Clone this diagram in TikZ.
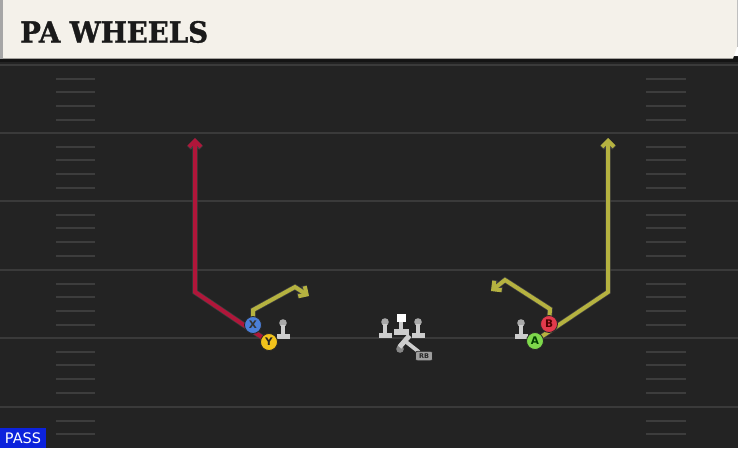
\documentclass[tikz,border=0pt]{standalone}
\usepackage{fontspec}
\usetikzlibrary{arrows.meta}
\newfontfamily\titlefont{DejaVu Serif}[FakeStretch=0.95, BoldFeatures={FakeBold=1.2}]
\newfontfamily\labfont{DejaVu Sans}
\definecolor{fieldbg}{HTML}{232323}
\definecolor{yardc}{HTML}{3A3A3A}
\definecolor{hashc}{HTML}{3D3D3D}
\definecolor{titlebg}{HTML}{F4F1EA}
\definecolor{titletext}{HTML}{1A1A1A}
\definecolor{passblue}{HTML}{0C22DC}
\definecolor{redroute}{HTML}{B0163A}
\definecolor{yelroute}{HTML}{B5B240}
\definecolor{iconc}{HTML}{CDCDCD}
\definecolor{headc}{HTML}{A9A9A9}
\definecolor{xfill}{HTML}{4B7FD9}
\definecolor{yfill}{HTML}{F2C31B}
\definecolor{bfill}{HTML}{E23A4C}
\definecolor{afill}{HTML}{7ED94B}
\pgfdeclarelayer{bg}
\pgfdeclarelayer{rt}
\pgfsetlayers{bg,rt,main}
\tikzset{
  yard/.style={draw=yardc, line width=2pt},
  hashm/.style={draw=hashc, line width=1.5pt},
  player/.style={circle, draw=black!85, line width=0.8pt, minimum size=17pt, inner sep=0pt,
    font=\labfont\bfseries\fontsize{10.5}{10.5}\selectfont},
  route/.style={line width=4pt, line join=miter,
    preaction={draw=black!75, line width=5.4pt},
    -{Straight Barb[length=6pt,width=12pt]}},
  blocker/.pic={
    \fill[headc] (0,0) circle (3.8);
    \fill[iconc] (-2.2,2) rectangle (2.2,12);
    \fill[iconc] (-6.5,11) rectangle (6.5,16);
  }
}
\begin{document}
\begin{tikzpicture}[x=1pt,y=-1pt]
\useasboundingbox (0,0) rectangle (738,448);
\begin{pgfonlayer}{bg}
  \fill[fieldbg] (0,56) rectangle (738,448);
  \foreach \y in {65,133,201,270,338,407} {
    \draw[yard] (0,\y) -- (738,\y);
  }
  \foreach \y in {65,133,201,270,338} {
    \foreach \d in {14,27,41,55} {
      \draw[hashm] (56,\y+\d) -- (95,\y+\d);
      \draw[hashm] (646,\y+\d) -- (686,\y+\d);
    }
  }
  \foreach \d in {14,27} {
    \draw[hashm] (56,407+\d) -- (95,407+\d);
    \draw[hashm] (646,407+\d) -- (686,407+\d);
  }
  % title bar
  \fill[black!92] (0,57) rectangle (738,62);
  \fill[titlebg] (0,0) -- (737,0) -- (737,47) -- (733,58.5) -- (0,58.5) -- cycle;
  \fill[black!35] (0,0) rectangle (2.5,58.5);
  \draw[black!25, line width=0.8pt] (737,0) -- (737,47);
\end{pgfonlayer}

\node[anchor=base west, inner sep=0pt, text=titletext,
  font=\titlefont\bfseries\fontsize{29}{29}\selectfont] (title) at (20,42.5) {PA WHEELS};

% PASS label
\fill[passblue] (0,428) rectangle (46,448);
\node[text=white, inner sep=0pt, font=\labfont\fontsize{14.5}{14.5}\selectfont] (pass) at (23,438.5) {PASS};

% linemen / blockers
\pic at (283,323) {blocker};
\pic at (385,322) {blocker};
\pic at (418,322) {blocker};
\pic at (521,323) {blocker};
% center
\fill[white] (396.5,313.5) rectangle (405.5,322);
\fill[iconc] (399,322) rectangle (403,330);
\fill[iconc] (394,329) rectangle (408.5,334.5);
% running back
\fill[headc!80!black] (400,349) circle (3.8);
\draw[iconc, line width=3.8pt] (405,341) -- (419,352);
\draw[iconc, line width=5pt] (399.5,347) -- (409.5,335.5);
\node[fill=black!38, draw=black!85, line width=0.6pt, rounded corners=2pt, inner sep=0pt,
  minimum width=17pt, minimum height=9.5pt, text=black!85,
  font=\labfont\bfseries\fontsize{6.5}{6.5}\selectfont] (rb) at (424,356) {RB};

% players
\node[player, fill=xfill, text=black!80] (X) at (253,325) {X};
\node[player, fill=yfill, text=black!85] (Y) at (269,342) {Y};
\node[player, fill=bfill, text=black!70!red] (B) at (549,324) {B};
\node[player, fill=afill, text=black!75!green] (A) at (535,341) {A};

% route corner points
\coordinate (r1) at (195,292);
\coordinate (r2) at (195,138);
\coordinate (x1) at (253,310);
\coordinate (x2) at (295,287);
\coordinate (x3) at (309,296);
\coordinate (b1) at (550,309);
\coordinate (b2) at (505,280);
\coordinate (b3) at (491,291);
\coordinate (a1) at (608,292);
\coordinate (a2) at (608,138);

\begin{pgfonlayer}{rt}
  \draw[route, draw=redroute] (Y.center) -- (r1) -- (r2);
  \draw[route, draw=yelroute] (X.center) -- (x1) -- (x2) -- (x3);
  \draw[route, draw=yelroute] (B.center) -- (b1) -- (b2) -- (b3);
  \draw[route, draw=yelroute] (A.center) -- (a1) -- (a2);
\end{pgfonlayer}
\end{tikzpicture}
\end{document}
